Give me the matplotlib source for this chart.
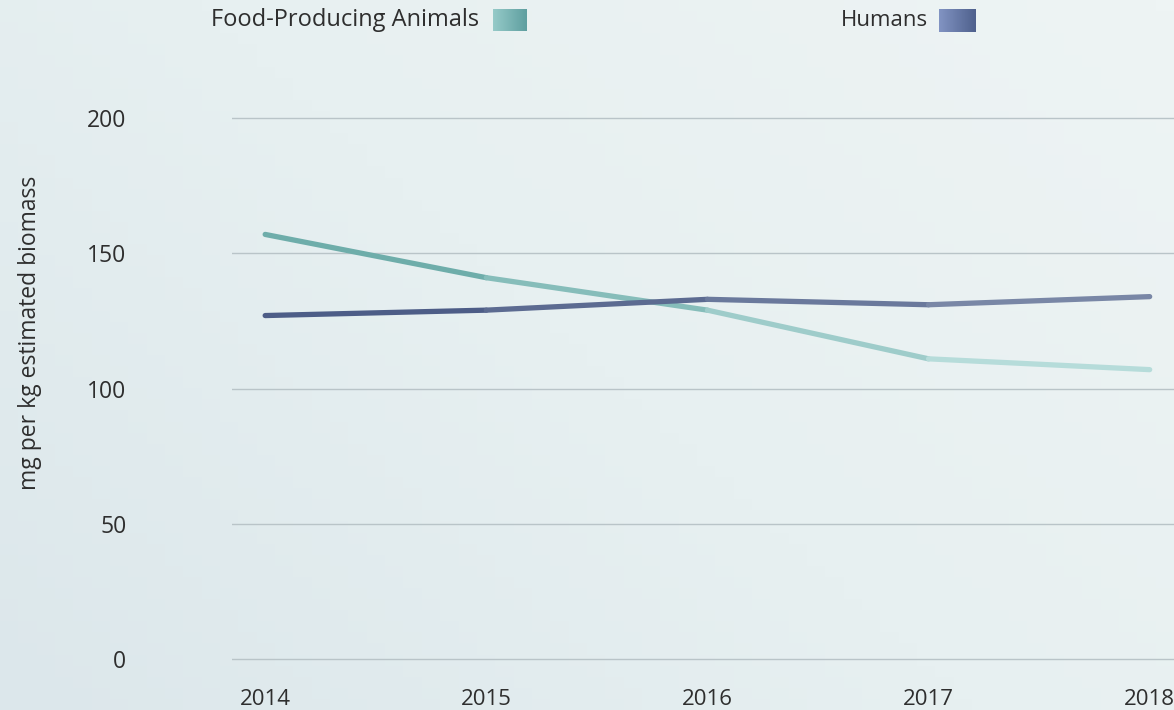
import matplotlib
matplotlib.use("Agg")
import matplotlib.pyplot as plt
import numpy as np
from matplotlib.colors import LinearSegmentedColormap, to_rgb

years = [2014, 2015, 2016, 2017, 2018]
food_animals = [157, 141, 129, 111, 107]
humans = [127, 129, 133, 131, 134]
y_ticks = [0, 50, 100, 150, 200]
series_names = ["Food-Producing Animals", "Humans"]
y_label = "mg per kg estimated biomass"

W, H = 1174, 710
fig = plt.figure(figsize=(W / 100, H / 100), dpi=100)
fig.patch.set_facecolor("#e6eff1")

# soft background gradient
bg = fig.add_axes([0, 0, 1, 1], zorder=-10)
bg.axis("off")
gx = np.linspace(0, 1, 64)
GX, GY = np.meshgrid(gx, gx)
cm = LinearSegmentedColormap.from_list("bg", ["#dce7eb", "#e7f0f1", "#eef4f4"])
bg.imshow(0.6 * GX + 0.4 * GY, cmap=cm, aspect="auto", extent=[0, 1, 0, 1], origin="lower")
bg.set_xlim(0, 1); bg.set_ylim(0, 1)

FONT = "Open Sans"
TXT = "#2e2e2e"

left_px, right_px, top_px, bot_px = 232, 1174, 110, 665
ax = fig.add_axes([left_px / W, 1 - bot_px / H, (right_px - left_px) / W, (bot_px - top_px) / H])
ax.patch.set_alpha(0)
ax.set_xlim(2013.85, 2018.11)
ax.set_ylim(-2.2, 203.0)
for s in ax.spines.values():
    s.set_visible(False)
ax.set_yticks(y_ticks)
ax.set_xticks(years)
ax.grid(axis="y", color="#b9c4c8", lw=1.0)
ax.grid(axis="x", visible=False)
ax.set_axisbelow(True)
ax.tick_params(length=0)
ax.tick_params(axis="y", pad=76, labelsize=16.5, labelcolor=TXT)
ax.tick_params(axis="x", pad=17, labelsize=16, labelcolor=TXT)
for lab in ax.get_xticklabels() + ax.get_yticklabels():
    lab.set_family(FONT)

def seg_plot(xs, ys, c0, c1, lw):
    n = len(xs) - 1
    a = np.array(to_rgb(c0)); b = np.array(to_rgb(c1))
    for i in range(n):
        t = i / max(n - 1, 1)
        ax.plot(xs[i:i + 2], ys[i:i + 2], color=tuple(a + (b - a) * t), lw=lw,
                solid_capstyle="round", solid_joinstyle="round", zorder=3)

seg_plot(years, food_animals, "#6eadaa", "#b6dcda", 3.8)
seg_plot(years, humans, "#4d5d87", "#7987a6", 3.8)

def grad_patch(x0, y0, w, h, c0, c1):
    pax = fig.add_axes([x0 / W, 1 - (y0 + h) / H, w / W, h / H])
    pax.axis("off")
    cmap = LinearSegmentedColormap.from_list("p", [c0, c1])
    g = np.linspace(0, 1, 32)[None, :] * np.ones((8, 1))
    pax.imshow(g, cmap=cmap, aspect="auto")

# legend
fig.text(211 / W, 1 - 20 / H, series_names[0], family=FONT, fontsize=17,
         color=TXT, va="center", ha="left")
grad_patch(493, 9, 34, 22, "#95cac8", "#5f9fa0")
fig.text(928 / W, 1 - 20 / H, series_names[1], family=FONT, fontsize=16,
         color=TXT, va="center", ha="right")
grad_patch(939, 9, 37, 23, "#8193c2", "#4f618d")

fig.text(30 / W, 1 - 333 / H, y_label, rotation=90, family=FONT, fontsize=16.5,
         color=TXT, va="center", ha="center")

fig.savefig("out.png", dpi=100, facecolor=fig.get_facecolor())
